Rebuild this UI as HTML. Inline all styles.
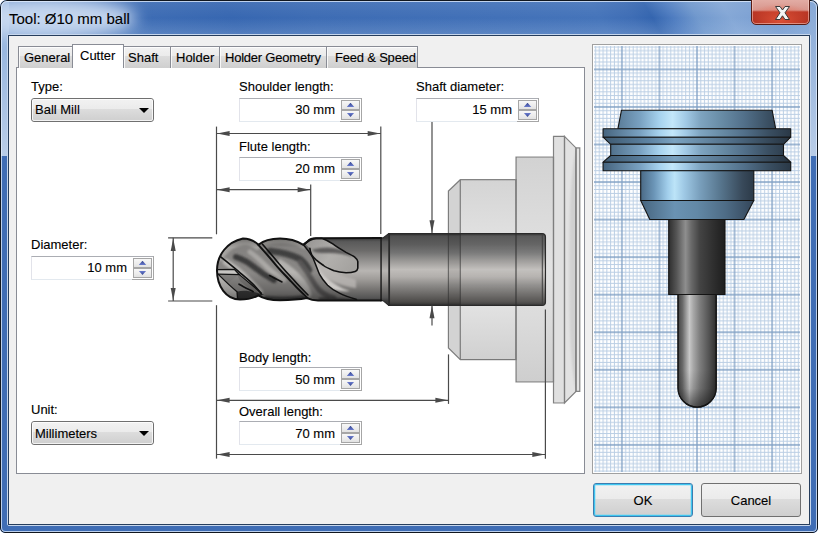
<!DOCTYPE html>
<html><head><meta charset="utf-8">
<style>
*{box-sizing:border-box}
html,body{margin:0;padding:0;background:#fff}
body{width:818px;height:533px;overflow:hidden;position:relative;font-family:"Liberation Sans",sans-serif;color:#000}
.abs{position:absolute}
.t{position:absolute;font-size:13px;line-height:15px;white-space:nowrap;-webkit-text-stroke:0.12px #000}
.win{position:absolute;left:0;top:0;width:818px;height:533px;border-radius:7px 7px 5px 5px;background:#3f6db5;overflow:hidden}
.client{position:absolute;left:9px;top:36px;width:800px;height:488px;background:#f0f0f0}
.panel{position:absolute;left:16px;top:67px;width:569px;height:407px;background:#fff;border:1px solid #898c95}
.tab{position:absolute;top:46px;height:22px;border:1px solid #898c95;border-bottom:none;background:linear-gradient(#f2f2f2 0,#ebebeb 43%,#dddddd 43%,#cfcfcf 100%);box-shadow:inset 1px 1px 0 rgba(255,255,255,0.8)}
.tab.sel{top:44px;height:24px;background:#fff}
.spin{position:absolute;width:123px;height:24px;border:1px solid #abadb3;border-right-color:#dbdfe6;border-bottom-color:#e3e9ef;border-left-color:#e2e3ea;background:#fff}
.combo{position:absolute;width:123px;height:24px;border:1px solid #707070;border-radius:3px;background:linear-gradient(#f2f2f2 0,#ebebeb 45%,#dddddd 45%,#cfcfcf 100%)}
.dd{position:absolute;left:106.5px;top:8.7px;width:0;height:0;border-left:5px solid transparent;border-right:5px solid transparent;border-top:5.3px solid #000}
.btn{position:absolute;top:483px;width:100px;height:34px;border:1px solid #707070;border-radius:3px;background:linear-gradient(#f2f2f2 0,#ebebeb 46%,#dddddd 46%,#cfcfcf 100%);font-size:13px;text-align:center;line-height:15px}
.sb{position:absolute;left:101px;width:19px;height:10px;border:1px solid #a6a6a6;background:linear-gradient(#f7f7f7,#ececec 60%,#e2e2e2)}
.au,.ad{position:absolute;left:4.5px;width:8px;height:4.5px}
.au{top:1.8px;clip-path:polygon(50% 0,100% 100%,0 100%);background:linear-gradient(#34448e,#6a7cd0)}
.ad{top:1.6px;clip-path:polygon(0 0,100% 0,50% 100%);background:linear-gradient(#6a7cd0,#34448e)}
</style></head><body>
<div class="win">
  <svg class="abs" style="left:0;top:0" width="818" height="36"><defs><linearGradient id="gTitle" x1="0" y1="0" x2="818" y2="0" gradientUnits="userSpaceOnUse" gradientTransform="skewX(30)">
<stop offset="0" stop-color="#5f8ac6"/><stop offset="0.17" stop-color="#3d6cb4"/><stop offset="0.27" stop-color="#3767b1"/>
<stop offset="0.37" stop-color="#3d6cb4"/><stop offset="0.6" stop-color="#4271b8"/><stop offset="0.72" stop-color="#4574ba"/>
<stop offset="0.76" stop-color="#3e6db5"/><stop offset="0.785" stop-color="#3465af"/><stop offset="0.81" stop-color="#4e7cc0"/><stop offset="0.84" stop-color="#7098cd"/>
<stop offset="0.88" stop-color="#84a7d6"/><stop offset="0.93" stop-color="#789dd1"/><stop offset="1" stop-color="#8aaddb"/>
</linearGradient></defs><rect x="0" y="0" width="818" height="36" fill="url(#gTitle)"/></svg>
  <div class="abs" style="left:0;top:0;width:818px;height:36px;background:linear-gradient(rgba(255,255,255,0.08),rgba(255,255,255,0) 50%,rgba(180,205,235,0.25) 100%)"></div>
    <div class="abs" style="left:0;top:0;width:9px;height:156px;background:linear-gradient(#8aaddb,#b9cde8)"></div>
  <div class="abs" style="left:809px;top:0;width:9px;height:156px;background:linear-gradient(#86a8d6,#b9cde8)"></div>
  <div class="abs" style="left:-40px;top:-2px;width:176px;height:40px;border-radius:50%;background:rgba(200,217,240,0.97);filter:blur(8px)"></div>
  <div class="abs" style="left:7px;top:34px;width:804px;height:492px;border:1px solid #c6d6ec;border-radius:2px"></div>
  <div class="abs" style="left:8px;top:35px;width:802px;height:490px;border:1px solid #263d5c"></div>
  <div class="client"></div>
  <div class="abs" style="left:0;top:0;width:818px;height:533px;border:1px solid #10161e;border-radius:7px 7px 5px 5px"></div>
  <div class="abs" style="left:1px;top:1px;width:816px;height:531px;border:1px solid rgba(230,240,255,0.75);border-radius:6px 6px 4px 4px"></div>
  <div class="t" style="left:9px;top:10px;font-size:15px;line-height:18px;-webkit-text-stroke:0.1px #000">Tool: Ø10 mm ball</div>
  <div class="abs" style="left:751px;top:-1px;width:59px;height:26px;border:1px solid #5a1c14;border-radius:0 0 5px 5px;background:radial-gradient(ellipse 60% 70% at 50% 85%,rgba(235,90,60,0.75),rgba(235,90,60,0) 100%),linear-gradient(#e2aca4 0,#d8968d 42%,#b63424 50%,#a92b1e 100%);overflow:hidden">
    <div class="abs" style="left:0;top:0;width:57px;height:24px;border:1px solid rgba(255,220,210,0.5);border-radius:0 0 4px 4px;border-top:none"></div>
    <svg class="abs" style="left:0;top:0" width="57" height="24" viewBox="751 0 57 24"><path d="M774.5 6.5 L779 6.5 L781.5 10 L784 6.5 L788.5 6.5 L784 12.8 L788.5 19.5 L784 19.5 L781.5 15.8 L779 19.5 L774.5 19.5 L779 12.8 Z" fill="#f4f4f4" stroke="#3a3a3a" stroke-width="1" stroke-linejoin="round"/></svg>
  </div>
</div>
<div class="panel"></div>
<svg class="abs" style="left:0;top:0" width="818" height="533" viewBox="0 0 818 533">
<defs>
  <linearGradient id="gShaft" x1="0" y1="233.5" x2="0" y2="305.5" gradientUnits="userSpaceOnUse">
    <stop offset="0" stop-color="#2e2e2e"/><stop offset="0.04" stop-color="#505050"/><stop offset="0.15" stop-color="#5c5c5c"/>
    <stop offset="0.27" stop-color="#747474"/><stop offset="0.38" stop-color="#9a9896"/><stop offset="0.5" stop-color="#c0bdba"/>
    <stop offset="0.6" stop-color="#b2afac"/><stop offset="0.72" stop-color="#8c8a88"/><stop offset="0.85" stop-color="#686664"/>
    <stop offset="0.95" stop-color="#4c4a48"/><stop offset="1" stop-color="#2e2e2e"/>
  </linearGradient>
  <linearGradient id="gShank" x1="0" y1="238" x2="0" y2="301" gradientUnits="userSpaceOnUse">
    <stop offset="0" stop-color="#3a3a3a"/><stop offset="0.06" stop-color="#5a5a5a"/><stop offset="0.2" stop-color="#6c6b6a"/>
    <stop offset="0.4" stop-color="#9c9a98"/><stop offset="0.52" stop-color="#b8b5b2"/><stop offset="0.65" stop-color="#a09d9a"/>
    <stop offset="0.8" stop-color="#7a7876"/><stop offset="0.95" stop-color="#555"/><stop offset="1" stop-color="#3a3a3a"/>
  </linearGradient>
  <linearGradient id="gFlute" x1="217" y1="270" x2="273.8" y2="218.8" gradientUnits="userSpaceOnUse">
    <stop offset="0" stop-color="#8a8886"/><stop offset="0.03" stop-color="#a8a6a3"/><stop offset="0.15" stop-color="#b0aeab"/>
    <stop offset="0.19" stop-color="#6a6968"/><stop offset="0.21" stop-color="#a09e9c"/><stop offset="0.25" stop-color="#aeacaa"/>
    <stop offset="0.3" stop-color="#6a6968"/><stop offset="0.36" stop-color="#565554"/><stop offset="0.42" stop-color="#6a6968"/>
    <stop offset="0.46" stop-color="#9a9896"/><stop offset="0.49" stop-color="#8a8886"/><stop offset="0.53" stop-color="#5a5958"/>
    <stop offset="0.58" stop-color="#aaa8a5"/><stop offset="0.63" stop-color="#b0aeab"/><stop offset="0.68" stop-color="#7a7876"/>
    <stop offset="0.76" stop-color="#6e6d6c"/><stop offset="0.835" stop-color="#5a5958"/><stop offset="0.91" stop-color="#4a4a4a"/>
    <stop offset="0.96" stop-color="#9a9896"/><stop offset="1" stop-color="#b8b6b3"/>
  </linearGradient>
  <linearGradient id="gHoldB" x1="0" y1="179.7" x2="0" y2="359.7" gradientUnits="userSpaceOnUse">
    <stop offset="0" stop-color="#d4d4d4"/><stop offset="0.3" stop-color="#e0e0e0"/><stop offset="0.5" stop-color="#e6e6e6"/>
    <stop offset="0.7" stop-color="#e2e2e2"/><stop offset="1" stop-color="#d0d0d0"/>
  </linearGradient>
  <linearGradient id="gHoldC" x1="0" y1="157" x2="0" y2="382" gradientUnits="userSpaceOnUse">
    <stop offset="0" stop-color="#d2d2d2"/><stop offset="0.3" stop-color="#dcdcdc"/><stop offset="0.5" stop-color="#e2e2e2"/>
    <stop offset="0.7" stop-color="#dcdcdc"/><stop offset="1" stop-color="#cecece"/>
  </linearGradient>
  <filter id="fBlur" x="-20%" y="-20%" width="140%" height="140%"><feGaussianBlur stdDeviation="0.8"/></filter>
  <filter id="fBlur2" x="-20%" y="-20%" width="140%" height="140%"><feGaussianBlur stdDeviation="1.0"/></filter>
  <linearGradient id="gCyl" x1="0" y1="238" x2="0" y2="301" gradientUnits="userSpaceOnUse">
    <stop offset="0" stop-color="#000" stop-opacity="0.35"/><stop offset="0.15" stop-color="#000" stop-opacity="0.05"/>
    <stop offset="0.55" stop-color="#000" stop-opacity="0"/><stop offset="0.82" stop-color="#000" stop-opacity="0.22"/>
    <stop offset="1" stop-color="#000" stop-opacity="0.45"/>
  </linearGradient>
  <linearGradient id="gSlot" x1="310" y1="240" x2="350" y2="272" gradientUnits="userSpaceOnUse">
    <stop offset="0" stop-color="#9a9896"/><stop offset="0.5" stop-color="#b2b0ad"/><stop offset="1" stop-color="#a4a29f"/>
  </linearGradient>
  <linearGradient id="gLens" x1="567" y1="0" x2="576" y2="0" gradientUnits="userSpaceOnUse"><stop offset="0" stop-color="#e4e4e4"/><stop offset="0.4" stop-color="#d2d2d2"/><stop offset="1" stop-color="#cdcdcd"/></linearGradient>
  <clipPath id="cFlute"><path d="M217,270.5 C217,255 227,242 243,238.5 C250,238.5 255,241.5 258.4,244.8 C264,240 272,238.5 280,238.5 C290,238.5 298,241.5 303.4,244.8 C308,250 311,254 313.3,258.7 C316,265 317.5,270 319.7,274.7 C322,279 324.5,282 327.6,285.2 C331,288.5 335,291 339.4,293.1 C345,296 350,297.5 356.5,299.5 L357,300.6 L318,300.6 C313,300.4 310,299.5 307,298.1 C300,299.5 291,300.2 280,300.2 C271,300.2 264,299 258.4,295.3 C254,297.8 248,299.6 240,299.6 C226,299.5 217,286 217,270.5 Z"/></clipPath>
</defs>
<!-- holder fill -->
<g stroke="none">
  <path d="M448.4,191 L460.3,179.7 L460.3,359.7 L448.4,348 Z" fill="#d3d3d3"/>
  <path d="M460.3,179.7 L516,179.7 L516,359.7 L460.3,359.7 Z" fill="url(#gHoldB)"/>
  <path d="M516,157 L553.5,157 L553.5,382 L516,382 Z" fill="url(#gHoldC)"/>
  <path d="M553.5,136.3 L564.5,136.3 L564.5,403 L553.5,403 Z" fill="#e0e0e0"/>
  <path d="M564.5,136.3 L576,147.9 L576,391.4 L564.5,403 Z" fill="#e2e2e2"/>
  <path d="M576,150 C566,190 566,350 576,390 L576,150 Z" fill="url(#gLens)" filter="url(#fBlur)"/>
  <path d="M576,147.9 L579.8,147.9 L579.8,391.4 L576,391.4 Z" fill="#e4e4e4"/>
</g>
<!-- shaft -->
<path d="M389,233.6 L542,233.6 Q545.5,233.6 545.5,237 L545.5,302 Q545.5,305.4 542,305.4 L389,305.4 Z" fill="url(#gShaft)" stroke="#2a2a2a" stroke-width="1.1"/>
<line x1="542.3" y1="234.5" x2="542.3" y2="304.5" stroke="#333" stroke-width="1"/>
<!-- neck -->
<path d="M380.8,237.9 L383,237.9 L388.8,233.6 L389.5,233.6 L389.5,305.4 L388.8,305.4 L383,300.6 L380.8,300.6 Z" fill="url(#gShank)" stroke="#2a2a2a" stroke-width="1.1"/>
<line x1="388.9" y1="233.8" x2="388.9" y2="305.2" stroke="#2a2a2a" stroke-width="1.2"/>
<!-- shank -->
<path d="M300,246 C305,242 310,239 316,238.2 L381,237.9 L381,300.6 L316,300.6 C311,300 308,298.5 303,297 Z" fill="url(#gShank)"/>
<!-- runout light face -->
<path d="M303.4,244.7 C308,250 311,254 313.3,258.7 C316,265 317.5,270 319.7,274.7 C322,279 324.5,282 327.6,285.2 C331,288.5 335,291 339.4,293.1 C345,296 350,297.5 356.5,299.5 L357,300.6 L316,300.6 C311,300 308,298.5 305,297 Z" fill="#c8c5c2" opacity="0.3"/>

<path d="M314,258 C318,264 321,270 326,276 C332,283 340,288 350,291 C340,292 332,290 325,285 C320,280 316,270 314,258 Z" fill="#cdcac7" filter="url(#fBlur2)"/>
<path d="M312,252 C318,262 326,268 338,274 C346,277 352,278 356,280 L356,288 C344,286 332,282 324,276 C318,270 314,262 312,252 Z" fill="#b9b6b3" opacity="0.8" filter="url(#fBlur2)"/>
<!-- flute runout slot -->
<path d="M305.3,243.9 C308,240 310,238.6 313.1,238.4 L321.7,238.2 C327,240 330,242 332.8,243.9 C337,247 342,250 346,252.4 C350,254.5 354,256 355.2,257.6 C357,259 357.8,260 357.8,261.6 L357.8,268.1 C357.5,270 356.5,271 355.2,271.4 C352,272.5 349,272.7 346,272.7 C342,272.5 338,272 334.2,270.8 C330,269 326,267.5 323.6,265.5 C320,263 318,261.5 315.8,259.6 C313.5,257.5 312.5,256 311.8,255 C310.5,252.5 310,250.5 309.9,248.4 Z" fill="url(#gSlot)"/>
<path d="M311.8,249.8 C318,247.5 328,246.5 336.8,248.4 C345,250.5 350,254 353,257 C345,254 334,252.5 325,253 C318,253.5 314,252.5 311.8,249.8 Z" fill="#5a5958" opacity="0.95" filter="url(#fBlur)"/>
<!-- fluted body -->
<g clip-path="url(#cFlute)">
  <rect x="210" y="230" width="150" height="80" fill="#8a8886"/>
  <g filter="url(#fBlur2)" fill="none" stroke-linecap="round">
    <path d="M220,258 C226,248 234,243 244,242 C250,242 254,244 257,247" stroke="#adaba8" stroke-width="6"/>
    <path d="M236,257 C242,259 248,262 254,267 C260,272 266,276 274,280" stroke="#3e3d3c" stroke-width="6"/>
    <path d="M226,262 C234,267 240,272 246,278 C252,284 256,288 260,292" stroke="#bab8b5" stroke-width="6.5"/>
    <path d="M250,252 C256,256 262,262 268,268 C272,272 278,276 284,280" stroke="#adaba8" stroke-width="5"/>
    <path d="M264,243 C272,241 282,240 292,242 C298,243 302,245 304,247" stroke="#aaa8a5" stroke-width="4"/>
    <path d="M270,251 C280,252 290,254 300,259 C304,262 307,266 309,270" stroke="#424242" stroke-width="6.5"/>
    <path d="M280,263 C288,268 296,275 302,282 C305,286 307,290 308,294" stroke="#b6b4b1" stroke-width="7"/>
    <path d="M300,262 C306,270 311,278 316,286 C320,292 326,296 334,298" stroke="#5a5958" stroke-width="5"/>
    
    <path d="M266,298 C280,299 294,299 304,297" stroke="#444" stroke-width="4"/>
    <path d="M320,299 C332,299 345,300 356,300.5" stroke="#4a4a4a" stroke-width="3"/>
  </g>
  <path d="M234.5,269.4 L239.5,274.5 C246,280 254,287 261.3,293 L264,294.5 L258.4,295.3 C252,291 246,286 240,281 Z" fill="#7a7876"/>
  <path d="M218,274.1 L238.3,274.8 C233,279 229,282 226,284 Z" fill="#7e7c7a" opacity="0.5"/>
  <path d="M218,274.1 C224,280 230,286 237,291.7 L237.6,299.1 C232,298 228,296 225,293 C221,289 218,283 217.5,276 Z" fill="#c2c0bd"/>
  <path d="M237,291.7 C243,290 249,291 254,292 C258,293 261,294 264,294.5 C258,297 252,299 246,299.5 L237.6,299.1 Z" fill="#3c3c3c"/>
  <path d="M217.5,269.7 L234,269.4 L239,274.6 L218,274.1 Z" fill="#c6c4c1"/>
  <rect x="210" y="230" width="150" height="80" fill="url(#gCyl)"/>
</g>
<g fill="none" stroke="#111" stroke-linecap="round">
  <path d="M217,270.5 C217,255 227,242 243,238.5 C250,238.5 255,241.5 258.4,244.8 C264,240 272,238.5 280,238.5 C290,238.5 298,241.5 303.4,244.8 C307,241.5 311,239 316,238.2 L381,237.9" stroke-width="2"/>
  <path d="M217,270.5 C217,286 226,299.5 240,299.6 C248,299.6 254,297.8 258.4,295.3 C264,299 271,300.2 280,300.2 C291,300.2 300,299.5 307,298.1 C310,299.5 313,300.4 318,300.6 L381,300.6" stroke-width="2"/>
  <path d="M381,237.9 L381,300.6" stroke-width="1.2"/>
  <path d="M220.4,256.6 C227,262 234,267.5 240.1,272.8 C245,277 250,281 254.2,285.4 C257,288.5 259.5,291 261.2,293.9" stroke-width="1.7"/>
  <path d="M258.4,244.8 C264,251 270,258 275.3,264.3 C280,270 286,276 290.8,281.2 C295,286 299,290 303.4,293.9 C305,295.5 306.5,297 307.6,298.1" stroke-width="2"/>
  <path d="M262.5,244.2 C268,250.5 273.5,257 278.8,263.5 C284,269.5 289,275 294,280.3 C298,285 302,289 308,295" stroke-width="1.6"/>
  <path d="M303.4,244.7 C308,250 311,254 313.3,258.7 C316,265 317.5,270 319.7,274.7 C322,279 324.5,282 327.6,285.2 C331,288.5 335,291 339.4,293.1 C345,296 350,297.5 356.5,299.5" stroke-width="1.5"/>
  <path d="M269.5,275.5 C274,278 278,280 282,282" stroke-width="1.5"/>
  <path d="M239,284.2 C244,287 249,289.5 253.2,291.7" stroke-width="1.6"/>
  <path d="M217.5,269.7 L234.3,269.4 L239.3,274.6 L218,274.1" stroke-width="1.3"/>
  <path d="M239.3,274.6 C246,280 254,287 261.3,293" stroke-width="1.2"/>
  <path d="M218,274.1 C224,280 230,286 237,291.7 L237.6,299.1" stroke-width="1.3"/>
  <path d="M305.3,243.9 C308,240 310,238.6 313.1,238.4 L321.7,238.2 C327,240 330,242 332.8,243.9 C337,247 342,250 346,252.4 C350,254.5 354,256 355.2,257.6 C357,259 357.8,260 357.8,261.6 L357.8,268.1 C357.5,270 356.5,271 355.2,271.4 C352,272.5 349,272.7 346,272.7 C342,272.5 338,272 334.2,270.8 C330,269 326,267.5 323.6,265.5 C320,263 318,261.5 315.8,259.6 C313.5,257.5 312.5,256 311.8,255 C310.5,252.5 310,250.5 309.9,248.4" stroke-width="1.6"/>
</g>
<rect x="448.8" y="234.2" width="11.5" height="70.6" fill="#000" opacity="0.05"/>
<rect x="460.3" y="234.2" width="84" height="70.6" fill="#fff" opacity="0.06"/>
<!-- holder outlines -->
<g fill="none" stroke="#2a2a2a" opacity="0.55" stroke-width="1.2">
  <path d="M448.4,191 L460.3,179.7 L516,179.7 L516,359.7 L460.3,359.7 L448.4,348 Z"/>
  <path d="M516,157 L553.5,157 L553.5,382 L516,382 Z"/>
  <path d="M553.5,136.3 L564.5,136.3 L564.5,403 L553.5,403 Z"/>
  <path d="M564.5,136.3 L576,147.9 L576,391.4 L564.5,403 Z"/>
  <path d="M576,147.9 L579.8,147.9 L579.8,391.4 L576,391.4 Z"/>
  <line x1="460.3" y1="179.7" x2="460.3" y2="359.7"/>
</g>
<!-- dimension lines -->
<g stroke="#4a4a4a" stroke-width="1.2" fill="none">
  <line x1="216.5" y1="126.6" x2="216.5" y2="234.3"/>
  <line x1="216.5" y1="305.2" x2="216.5" y2="458.6"/>
  <line x1="380.8" y1="126.6" x2="380.8" y2="234"/>
  <line x1="310.7" y1="184.6" x2="310.7" y2="236"/>
  <line x1="216.5" y1="133.5" x2="380.8" y2="133.5"/>
  <line x1="216.5" y1="189.7" x2="310.7" y2="189.7"/>
  <line x1="168.1" y1="237.8" x2="212.3" y2="237.8"/>
  <line x1="168.1" y1="301" x2="212.3" y2="301"/>
  <line x1="173.2" y1="237.8" x2="173.2" y2="301"/>
  <line x1="432" y1="121.5" x2="432" y2="233"/>
  <line x1="432" y1="305.6" x2="432" y2="325.6"/>
  <line x1="448.5" y1="354.4" x2="448.5" y2="403.9"/>
  <line x1="545.4" y1="309.4" x2="545.4" y2="458.7"/>
  <line x1="216.5" y1="400.3" x2="448.5" y2="400.3"/>
  <line x1="216.5" y1="454.5" x2="545.4" y2="454.5"/>
</g>
<g fill="#4a4a4a">
  <path d="M217,133.5 L229.6,131 L229.6,136 Z"/>
  <path d="M380.3,133.5 L367.7,131 L367.7,136 Z"/>
  <path d="M217,189.7 L229.6,187.2 L229.6,192.2 Z"/>
  <path d="M310.2,189.7 L297.6,187.2 L297.6,192.2 Z"/>
  <path d="M173.2,238.3 L170.7,250.9 L175.7,250.9 Z"/>
  <path d="M173.2,300.5 L170.7,287.9 L175.7,287.9 Z"/>
  <path d="M432,232.9 L429.5,220.3 L434.5,220.3 Z"/>
  <path d="M432,305.6 L429.5,318.2 L434.5,318.2 Z"/>
  <path d="M217,400.3 L229.6,397.8 L229.6,402.8 Z"/>
  <path d="M448,400.3 L435.4,397.8 L435.4,402.8 Z"/>
  <path d="M217,454.5 L229.6,452 L229.6,457 Z"/>
  <path d="M544.9,454.5 L532.3,452 L532.3,457 Z"/>
</g>
</svg>
<div class="tab" style="left:18px;width:55px"></div>
<div class="tab" style="left:123px;width:48px"></div>
<div class="tab" style="left:170px;width:50px"></div>
<div class="tab" style="left:219px;width:108px"></div>
<div class="tab" style="left:326px;width:92px"></div>
<div class="tab sel" style="left:72px;width:52px"></div>
<div class="t" style="left:24px;top:50px">General</div>
<div class="t" style="left:80px;top:48px">Cutter</div>
<div class="t" style="left:128px;top:50px">Shaft</div>
<div class="t" style="left:176px;top:50px">Holder</div>
<div class="t" style="left:225px;top:50px;letter-spacing:-0.22px">Holder Geometry</div>
<div class="t" style="left:335px;top:50px;letter-spacing:-0.2px">Feed &amp; Speed</div>

<div class="t" style="left:31px;top:79px">Type:</div>
<div class="combo" style="left:31px;top:98px"><div class="abs" style="left:0;top:0;right:0;bottom:0;border:1px solid rgba(255,255,255,0.75);border-radius:2px"></div><i class="dd"></i></div>
<div class="t" style="left:35px;top:102px">Ball Mill</div>

<div class="t" style="left:239px;top:79px">Shoulder length:</div>
<div class="spin" style="left:239px;top:98px"><div class="sb" style="top:1px"><i class="au"></i></div><div class="sb" style="top:11px"><i class="ad"></i></div><div class="abs" style="left:100px;top:22px;width:22px;height:1px;background:#a6a6a6"></div><div class="abs" style="left:121px;top:-1px;width:1px;height:24px;background:#a6a6a6"></div></div>
<div class="t" style="left:239px;top:102px;width:96px;text-align:right">30 mm</div>

<div class="t" style="left:416px;top:79px">Shaft diameter:</div>
<div class="spin" style="left:416px;top:98px"><div class="sb" style="top:1px"><i class="au"></i></div><div class="sb" style="top:11px"><i class="ad"></i></div><div class="abs" style="left:100px;top:22px;width:22px;height:1px;background:#a6a6a6"></div><div class="abs" style="left:121px;top:-1px;width:1px;height:24px;background:#a6a6a6"></div></div>
<div class="t" style="left:416px;top:102px;width:96px;text-align:right">15 mm</div>

<div class="t" style="left:239px;top:139px">Flute length:</div>
<div class="spin" style="left:239px;top:157px"><div class="sb" style="top:1px"><i class="au"></i></div><div class="sb" style="top:11px"><i class="ad"></i></div><div class="abs" style="left:100px;top:22px;width:22px;height:1px;background:#a6a6a6"></div><div class="abs" style="left:121px;top:-1px;width:1px;height:24px;background:#a6a6a6"></div></div>
<div class="t" style="left:239px;top:161px;width:96px;text-align:right">20 mm</div>

<div class="t" style="left:31px;top:237px">Diameter:</div>
<div class="spin" style="left:31px;top:256px"><div class="sb" style="top:1px"><i class="au"></i></div><div class="sb" style="top:11px"><i class="ad"></i></div><div class="abs" style="left:100px;top:22px;width:22px;height:1px;background:#a6a6a6"></div><div class="abs" style="left:121px;top:-1px;width:1px;height:24px;background:#a6a6a6"></div></div>
<div class="t" style="left:31px;top:260px;width:96px;text-align:right">10 mm</div>

<div class="t" style="left:239px;top:350px">Body length:</div>
<div class="spin" style="left:239px;top:367px"><div class="sb" style="top:1px"><i class="au"></i></div><div class="sb" style="top:11px"><i class="ad"></i></div><div class="abs" style="left:100px;top:22px;width:22px;height:1px;background:#a6a6a6"></div><div class="abs" style="left:121px;top:-1px;width:1px;height:24px;background:#a6a6a6"></div></div>
<div class="t" style="left:239px;top:372px;width:96px;text-align:right">50 mm</div>

<div class="t" style="left:31px;top:402px">Unit:</div>
<div class="combo" style="left:31px;top:421px"><div class="abs" style="left:0;top:0;right:0;bottom:0;border:1px solid rgba(255,255,255,0.75);border-radius:2px"></div><i class="dd"></i></div>
<div class="t" style="left:35px;top:426px">Millimeters</div>

<div class="t" style="left:239px;top:404px">Overall length:</div>
<div class="spin" style="left:239px;top:421px"><div class="sb" style="top:1px"><i class="au"></i></div><div class="sb" style="top:11px"><i class="ad"></i></div><div class="abs" style="left:100px;top:22px;width:22px;height:1px;background:#a6a6a6"></div><div class="abs" style="left:121px;top:-1px;width:1px;height:24px;background:#a6a6a6"></div></div>
<div class="t" style="left:239px;top:426px;width:96px;text-align:right">70 mm</div>

<svg class="abs" style="left:592px;top:44px" width="210" height="430" viewBox="592 44 210 430">
<defs>
  <pattern id="pGrid" x="621.9" y="69.4" width="37.55" height="37.55" patternUnits="userSpaceOnUse">
    <g stroke="#bacee4" stroke-width="1">
      <line x1="3.755" y1="0" x2="3.755" y2="37.55"/><line x1="7.51" y1="0" x2="7.51" y2="37.55"/><line x1="11.265" y1="0" x2="11.265" y2="37.55"/>
      <line x1="15.02" y1="0" x2="15.02" y2="37.55"/><line x1="18.775" y1="0" x2="18.775" y2="37.55"/><line x1="22.53" y1="0" x2="22.53" y2="37.55"/>
      <line x1="26.285" y1="0" x2="26.285" y2="37.55"/><line x1="30.04" y1="0" x2="30.04" y2="37.55"/><line x1="33.795" y1="0" x2="33.795" y2="37.55"/>
      <line y1="3.755" x1="0" y2="3.755" x2="37.55"/><line y1="7.51" x1="0" y2="7.51" x2="37.55"/><line y1="11.265" x1="0" y2="11.265" x2="37.55"/>
      <line y1="15.02" x1="0" y2="15.02" x2="37.55"/><line y1="18.775" x1="0" y2="18.775" x2="37.55"/><line y1="22.53" x1="0" y2="22.53" x2="37.55"/>
      <line y1="26.285" x1="0" y2="26.285" x2="37.55"/><line y1="30.04" x1="0" y2="30.04" x2="37.55"/><line y1="33.795" x1="0" y2="33.795" x2="37.55"/>
    </g>
    <g stroke="#82a1c5" stroke-width="1.35">
      <line x1="0" y1="0" x2="0" y2="37.55"/><line x1="37.55" y1="0" x2="37.55" y2="37.55"/>
      <line x1="0" y1="0" x2="37.55" y2="0"/><line x1="0" y1="37.55" x2="37.55" y2="37.55"/>
    </g>
  </pattern>
  <linearGradient id="gBlue" x1="603" y1="0" x2="791" y2="0" gradientUnits="userSpaceOnUse">
    <stop offset="0" stop-color="#46647e"/><stop offset="0.2" stop-color="#7aa2c2"/><stop offset="0.3" stop-color="#a6d2ee"/>
    <stop offset="0.37" stop-color="#c3e7fa"/><stop offset="0.44" stop-color="#a2cae6"/><stop offset="0.52" stop-color="#7ea4c0"/>
    <stop offset="0.62" stop-color="#6a8ea8"/><stop offset="0.75" stop-color="#52708a"/><stop offset="0.88" stop-color="#3a4f62"/>
    <stop offset="1" stop-color="#2a3846"/>
  </linearGradient>
  <linearGradient id="gBlueDark" x1="603" y1="0" x2="791" y2="0" gradientUnits="userSpaceOnUse">
    <stop offset="0" stop-color="#3e5970"/><stop offset="0.25" stop-color="#5e84a4"/><stop offset="0.38" stop-color="#7aa2c0"/>
    <stop offset="0.5" stop-color="#6a8eaa"/><stop offset="0.7" stop-color="#4e6b84"/><stop offset="1" stop-color="#26323e"/>
  </linearGradient>
  <linearGradient id="gBody" x1="640.7" y1="0" x2="753.8" y2="0" gradientUnits="userSpaceOnUse">
    <stop offset="0" stop-color="#4a6a86"/><stop offset="0.12" stop-color="#6c96b8"/><stop offset="0.24" stop-color="#a2cfec"/>
    <stop offset="0.3" stop-color="#bce4f8"/><stop offset="0.38" stop-color="#a0cae6"/><stop offset="0.52" stop-color="#7aa0bd"/>
    <stop offset="0.7" stop-color="#58778f"/><stop offset="0.9" stop-color="#38495a"/><stop offset="1" stop-color="#2c3a48"/>
  </linearGradient>
  <linearGradient id="gCone" x1="640.7" y1="0" x2="753.8" y2="0" gradientUnits="userSpaceOnUse">
    <stop offset="0" stop-color="#46647e"/><stop offset="0.3" stop-color="#6a92b2"/><stop offset="0.5" stop-color="#6288a6"/>
    <stop offset="0.75" stop-color="#4e6c86"/><stop offset="1" stop-color="#34465a"/>
  </linearGradient>
  <linearGradient id="gPShaft" x1="668.7" y1="0" x2="725" y2="0" gradientUnits="userSpaceOnUse">
    <stop offset="0" stop-color="#2e2e2e"/><stop offset="0.14" stop-color="#555"/><stop offset="0.3" stop-color="#8e8e8e"/>
    <stop offset="0.4" stop-color="#6a6a6a"/><stop offset="0.55" stop-color="#444"/><stop offset="0.8" stop-color="#2e2e2e"/>
    <stop offset="1" stop-color="#1e1e1e"/>
  </linearGradient>
  <linearGradient id="gPCut" x1="678" y1="0" x2="716.2" y2="0" gradientUnits="userSpaceOnUse">
    <stop offset="0" stop-color="#444"/><stop offset="0.12" stop-color="#6a6a6a"/><stop offset="0.3" stop-color="#c8c8c8"/>
    <stop offset="0.4" stop-color="#a8a8a8"/><stop offset="0.56" stop-color="#808080"/><stop offset="0.8" stop-color="#555"/>
    <stop offset="1" stop-color="#2e2e2e"/>
  </linearGradient>
  <linearGradient id="gBallShade" x1="0" y1="370" x2="0" y2="407" gradientUnits="userSpaceOnUse"><stop offset="0" stop-color="#000" stop-opacity="0"/><stop offset="0.5" stop-color="#000" stop-opacity="0.12"/><stop offset="1" stop-color="#000" stop-opacity="0.5"/></linearGradient>
  <radialGradient id="gBall" cx="690" cy="392" r="26" gradientUnits="userSpaceOnUse">
    <stop offset="0" stop-color="#c0c0c0"/><stop offset="0.4" stop-color="#808080"/><stop offset="1" stop-color="#2a2a2a"/>
  </radialGradient>
</defs>
<rect x="592" y="44" width="210" height="430" fill="#fff"/>
<rect x="594" y="46" width="206" height="426" fill="url(#pGrid)"/>
<rect x="592.5" y="44.5" width="209" height="429" fill="none" stroke="#a0a0a0" stroke-width="1"/>
<g stroke="#141414" stroke-width="1.1" stroke-linejoin="round">
  <path d="M621.5,110.2 L772.1,110.2 L775.7,128.8 L617.9,128.8 Z" fill="url(#gBlue)"/>
  <path d="M603.1,128.8 L790.7,128.8 L790.7,137.2 L603.1,137.2 Z" fill="url(#gBlue)"/>
  <path d="M603.1,137.2 L790.7,137.2 L783.5,144.3 L610.7,144.3 Z" fill="url(#gBlueDark)"/>
  <path d="M610.7,144.3 L783.5,144.3 L783.5,155.5 L610.7,155.5 Z" fill="url(#gBlue)"/>
  <path d="M610.7,155.5 L783.5,155.5 L790.7,162.2 L603.1,162.2 Z" fill="url(#gBlueDark)"/>
  <path d="M603.1,162.2 L790.7,162.2 L790.7,170.7 L603.1,170.7 Z" fill="url(#gBlue)"/>
  <path d="M640.7,170.7 L753.8,170.7 L753.8,200.5 L640.7,200.5 Z" fill="url(#gBody)"/>
  <path d="M640.7,200.5 L753.8,200.5 L743.9,219.5 L649.8,219.5 Z" fill="url(#gCone)"/>
  <path d="M668.7,219.5 L725,219.5 L725,294.5 L668.7,294.5 Z" fill="url(#gPShaft)"/>
  <path d="M678,294.5 L716.2,294.5 L716.2,388 A19.1,19.1 0 0 1 678,388 Z" fill="url(#gPCut)"/>
</g>
<path d="M678.5,388 A18.6,18.6 0 0 0 715.7,388 L715.7,360 L678.5,360 Z" fill="url(#gBallShade)"/>
<path d="M678,294.5 L716.2,294.5 L716.2,388 A19.1,19.1 0 0 1 678,388 Z" fill="none" stroke="#141414" stroke-width="1.1"/>
</svg>


<div class="btn" style="left:593px;border-color:#3c7db0;box-shadow:inset 0 0 0 1px #3ec6f0,inset 0 0 0 2px rgba(110,215,245,0.35)"><div class="t" style="left:0;top:9px;width:98px;text-align:center">OK</div></div>
<div class="btn" style="left:701px"><div class="t" style="left:0;top:9px;width:98px;text-align:center">Cancel</div></div>
</body></html>
